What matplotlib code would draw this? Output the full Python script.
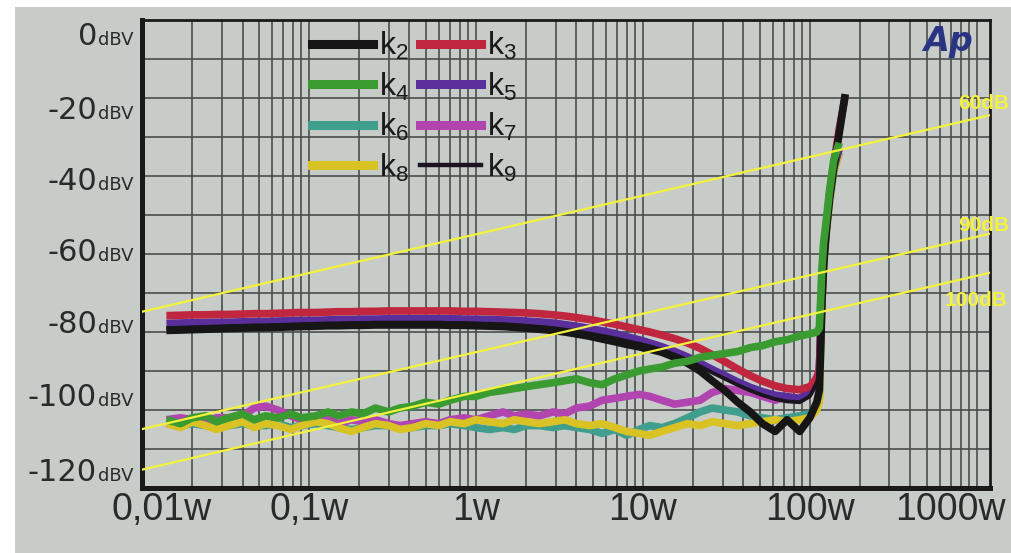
import numpy as np
import matplotlib
matplotlib.use("Agg")
import matplotlib.pyplot as plt
from matplotlib.ticker import LogLocator, NullFormatter
from matplotlib.font_manager import FontProperties
from matplotlib.textpath import TextPath
from matplotlib.patches import Rectangle
import matplotlib.transforms as mtransforms

# ---------------- data ----------------
POWER_W = [0.014, 0.017, 0.02, 0.024, 0.028, 0.033, 0.04, 0.047, 0.055, 0.065,
           0.078, 0.09, 0.11, 0.13, 0.15, 0.18, 0.21, 0.25, 0.3, 0.35,
           0.42, 0.5, 0.6, 0.7, 0.85, 1.0, 1.2, 1.45, 1.7, 2.0,
           2.4, 2.9, 3.4, 4.0, 4.8, 5.7, 6.8, 8.0, 9.5, 11,
           13, 15.5, 18.5, 22, 26, 31, 37, 44, 52, 62,
           73, 87, 100, 110]
SPIKE_W = [114, 116, 118, 121, 125, 131, 139, 150, 163]

K2 = [-79.6, -79.5, -79.4, -79.3, -79.2, -79.1, -79.0, -78.9, -78.9, -78.8,
      -78.7, -78.6, -78.5, -78.4, -78.4, -78.3, -78.3, -78.2, -78.2, -78.2,
      -78.2, -78.2, -78.2, -78.3, -78.3, -78.4, -78.5, -78.6, -78.8, -79.0,
      -79.3, -79.6, -80.0, -80.5, -81.1, -81.8, -82.5, -83.2, -83.8, -84.4,
      -85.2, -86.5, -88.0, -90.0, -92.5, -95.0, -98.0, -100.5, -103.5, -105.5,
      -102.5, -105.5, -102.0, -98.0]
K3 = [-75.8, -75.7, -75.6, -75.6, -75.5, -75.5, -75.4, -75.3, -75.3, -75.2,
      -75.1, -75.0, -75.0, -74.9, -74.8, -74.8, -74.7, -74.7, -74.6, -74.6,
      -74.6, -74.6, -74.6, -74.6, -74.7, -74.7, -74.8, -74.9, -75.0, -75.1,
      -75.3, -75.6, -75.9, -76.3, -76.8, -77.4, -78.0, -78.7, -79.4, -80.0,
      -80.8, -81.7, -82.8, -84.2, -85.8, -87.6, -89.5, -91.2, -92.6, -93.8,
      -94.5, -94.8, -94.0, -92.0]
K4 = [-102.5, -103.5, -102.0, -101.5, -103.0, -102.0, -101.0, -102.5, -101.5, -102.0,
      -101.0, -102.0, -101.5, -100.5, -101.5, -100.5, -101.0, -99.5, -100.5, -99.5,
      -99.0, -98.0, -98.5, -97.5, -96.5, -96.5, -95.5, -95.0, -94.5, -94.0,
      -93.5, -93.0, -92.5, -92.0, -93.0, -93.5, -92.0, -91.0, -90.0, -89.5,
      -89.0, -88.0, -87.5, -86.5, -86.0, -85.5, -85.0, -84.0, -83.5, -82.5,
      -82.0, -81.0, -80.5, -80.0]
K5 = [-77.8, -77.7, -77.6, -77.6, -77.5, -77.5, -77.4, -77.3, -77.3, -77.2,
      -77.1, -77.0, -77.0, -76.9, -76.8, -76.8, -76.7, -76.7, -76.6, -76.6,
      -76.6, -76.6, -76.6, -76.6, -76.7, -76.7, -76.8, -76.9, -77.0, -77.2,
      -77.4, -77.7, -78.1, -78.5, -79.1, -79.7, -80.4, -81.2, -82.0, -82.8,
      -83.8, -85.0, -86.4, -88.0, -89.6, -91.2, -92.8, -94.2, -95.3, -96.2,
      -96.6, -97.0, -95.5, -92.5]
K6 = [-103.5, -104.0, -103.5, -104.0, -104.5, -104.0, -103.5, -104.0, -104.0, -103.5,
      -104.5, -104.0, -103.5, -104.0, -104.5, -105.0, -104.5, -104.0, -104.0, -104.5,
      -104.5, -104.0, -104.0, -103.5, -104.0, -104.5, -105.0, -104.5, -105.0, -104.0,
      -104.0, -104.5, -104.0, -104.5, -105.0, -106.0, -105.0, -106.5, -105.0, -104.0,
      -104.5, -103.5, -102.0, -100.5, -99.5, -100.0, -100.5, -101.5, -102.0, -102.5,
      -102.0, -101.5, -101.0, -99.0]
K7 = [-102.5, -102.0, -102.5, -103.0, -102.0, -102.0, -101.5, -99.5, -99.0, -100.0,
      -101.5, -102.5, -103.0, -102.5, -103.5, -102.5, -103.0, -102.5, -103.5, -104.0,
      -103.5, -103.0, -103.5, -102.5, -102.0, -102.5, -101.5, -100.5, -101.5, -101.0,
      -101.5, -100.5, -101.0, -99.5, -99.0, -97.5, -97.0, -96.5, -96.0, -96.5,
      -97.5, -98.5, -98.0, -97.5, -95.5, -94.5, -95.0, -95.5, -96.5, -97.5,
      -96.5, -97.5, -95.0, -91.5]
K8 = [-103.5, -104.5, -103.0, -104.0, -105.0, -104.0, -103.0, -104.5, -103.5, -104.0,
      -105.0, -104.0, -103.0, -103.5, -104.5, -105.5, -104.5, -103.5, -104.0, -105.0,
      -104.5, -103.5, -104.0, -103.0, -103.5, -102.5, -103.0, -103.5, -102.5, -103.0,
      -103.5, -103.0, -102.5, -103.5, -104.0, -103.5, -104.5, -105.5, -106.0, -106.5,
      -105.5, -104.5, -103.5, -104.0, -103.0, -103.5, -104.0, -103.5, -103.0, -102.5,
      -103.0, -102.5, -102.0, -100.0]
K9 = [-79.0, -78.9, -78.8, -78.7, -78.6, -78.5, -78.4, -78.3, -78.3, -78.2,
      -78.1, -78.0, -77.9, -77.8, -77.8, -77.7, -77.7, -77.6, -77.6, -77.6,
      -77.6, -77.6, -77.6, -77.7, -77.7, -77.8, -77.9, -78.0, -78.2, -78.4,
      -78.7, -79.0, -79.4, -79.8, -80.4, -81.0, -81.6, -82.3, -83.0, -83.7,
      -84.6, -85.8, -87.2, -88.8, -90.4, -92.0, -93.6, -95.0, -96.2, -97.2,
      -97.8, -98.0, -96.5, -93.0]

K2_SPIKE = [-95, -85, -73, -63, -55, -46, -38, -29, -19]
K3_SPIKE = [-90, -82, -72, -62, -54, -45, -37, -28, -19.5]
K4_SPIKE = [-79, -72, -64, -57, -52, -44, -36, -31.5, np.nan]
K5_SPIKE = [-90, -80, -70, -61, -54, -46, -38, -33, np.nan]
K6_SPIKE = [-97, -85, -72, -62, -55, -47, -39, -34, np.nan]
K7_SPIKE = [-90, -80, -70, -61, -54, -46, -38, -33, np.nan]
K8_SPIKE = [-98, -86, -73, -63, -55, -47, -39, -34, np.nan]
K9_SPIKE = [-91, -82, -72, -62, -54, -45, -37, -29, -20]

# reference lines (signal minus 60 / 90 / 100 dB)
REF_W = [0.01, 1200]
REF_60 = [-74.8, -24.4]
REF_90 = [-104.9, -54.8]
REF_100 = [-115.3, -64.8]
REF_LABELS = ["60dB", "90dB", "100dB"]
REF_LABEL_W = [770, 770, 640]
REF_LABEL_DB = [-21.5, -52.8, -72.0]

XTICKS = [0.01, 0.1, 1, 10, 100, 1000]
XTICK_LABELS = ["0,01w", "0,1w", "1w", "10w", "100w", "1000w"]
YTICKS = [0, -20, -40, -60, -80, -100, -120]
YGRID = [0, -10, -20, -30, -40, -50, -60, -70, -80, -90, -100, -110, -120]
# the printed scale labels drift from their grid lines in the photo (pixels, downward)
YLABEL_SHIFT_PX = [14, 9.5, 3, -4, -10, -15, -18]

# ---------------- styling ----------------
BG = "#c7ccc9"
GRID = "#4a4d4c"
TXT = "#2a2a2a"
NARROW = ["Liberation Sans Narrow", "Liberation Sans", "DejaVu Sans"]

fig = plt.figure(figsize=(10.12, 5.53), dpi=100, facecolor=BG)
ax = fig.add_axes([142 / 1012, 1 - 488 / 553, (990 - 142) / 1012, (488 - 20) / 553])
ax.set_facecolor(BG)

# white photo border
fig.patches.append(Rectangle((0, 1 - 7 / 553), 1, 7 / 553, transform=fig.transFigure,
                             facecolor="white", edgecolor="none", zorder=10))
fig.patches.append(Rectangle((0, 0), 15 / 1012, 1, transform=fig.transFigure,
                             facecolor="white", edgecolor="none", zorder=10))

ax.set_xscale("log")
ax.set_xlim(0.01, 1200)
ax.set_ylim(-120, 0)

ax.set_xticks(XTICKS)
ax.set_xticklabels(XTICK_LABELS)
ax.xaxis.set_minor_locator(LogLocator(base=10, subs=range(2, 10)))
ax.xaxis.set_minor_formatter(NullFormatter())
ax.set_yticks(YGRID)
ax.set_yticklabels([])
ax.tick_params(which="both", length=0)
ax.tick_params(axis="x", pad=3)
for lab in ax.get_xticklabels():
    lab.set_fontfamily(["Liberation Sans", "DejaVu Sans"])
    lab.set_fontsize(27)
    lab.set_color(TXT)
xl = ax.get_xticklabels()
xl[0].set_transform(xl[0].get_transform() + mtransforms.ScaledTranslation(20 / 100, 0, fig.dpi_scale_trans))
xl[-1].set_transform(xl[-1].get_transform() + mtransforms.ScaledTranslation(-26 / 100, 0, fig.dpi_scale_trans))

ax.grid(True, which="both", axis="x", color=GRID, lw=1.2)
ax.grid(True, which="major", axis="y", color=GRID, lw=1.2)
ax.set_axisbelow(True)

for side, lw in (("left", 3.6), ("bottom", 3.6), ("top", 2.0), ("right", 2.0)):
    ax.spines[side].set_linewidth(lw)
    ax.spines[side].set_color("#1a1a1a")

# y labels: big number + small "dBV"
fp_big = FontProperties(family="DejaVu Sans", size=22)
fp_small = FontProperties(family="DejaVu Sans", size=13)
w_small = TextPath((0, 0), "dBV", prop=fp_small).get_extents().width
for v, sh in zip(YTICKS, YLABEL_SHIFT_PX):
    dy = -8 - sh * 0.72
    ax.annotate("dBV", xy=(0, v), xycoords=("axes fraction", "data"),
                xytext=(-6, dy), textcoords="offset points", ha="right", va="baseline",
                fontproperties=fp_small, color=TXT, annotation_clip=False)
    ax.annotate(str(v), xy=(0, v), xycoords=("axes fraction", "data"),
                xytext=(-6 - w_small - 1.5, dy), textcoords="offset points",
                ha="right", va="baseline", fontproperties=fp_big, color=TXT,
                annotation_clip=False)

# ---------------- curves ----------------
X = POWER_W + SPIKE_W
series = [
    ("k$_{\\mathregular{6}}$", K6 + K6_SPIKE, "#3f9e8e", 5.5, 2),
    ("k$_{\\mathregular{7}}$", K7 + K7_SPIKE, "#b244b0", 5.5, 3),
    ("k$_{\\mathregular{8}}$", K8 + K8_SPIKE, "#d9c224", 5.5, 4),
    ("k$_{\\mathregular{5}}$", K5 + K5_SPIKE, "#5a2f9c", 5.5, 5),
    ("k$_{\\mathregular{3}}$", K3 + K3_SPIKE, "#c0263e", 5.5, 6),
    ("k$_{\\mathregular{9}}$", K9 + K9_SPIKE, "#1c1420", 2.8, 7),
    ("k$_{\\mathregular{2}}$", K2 + K2_SPIKE, "#161616", 5.5, 8),
    ("k$_{\\mathregular{4}}$", K4 + K4_SPIKE, "#3a9b31", 5.5, 9),
]
handles = {}
for label, ys, col, lw, z in series:
    (ln,) = ax.plot(X, ys, color=col, lw=lw, zorder=z, solid_capstyle="butt",
                    solid_joinstyle="round")
    handles[label] = ln

# yellow reference lines
for ys in (REF_60, REF_90, REF_100):
    ax.plot(REF_W, ys, color="#f4f23c", lw=1.6, zorder=12)
for lab, xw, yd in zip(REF_LABELS, REF_LABEL_W, REF_LABEL_DB):
    ax.text(xw, yd, lab, color="#f4f23c", fontsize=15, fontweight="bold",
            family=NARROW, ha="left", va="center", clip_on=False, zorder=13)

# Ap logo
ax.text(0.921, 0.955, "Ap", transform=ax.transAxes, fontsize=24, fontweight="bold",
        fontstyle="italic", color="#2a3482", ha="left", va="center", zorder=13)

# legend (column 1: k2 k4 k6 k8, column 2: k3 k5 k7 k9)
order = ["k$_{\\mathregular{%d}}$" % i for i in (2, 4, 6, 8, 3, 5, 7, 9)]
leg_handles = []
for key in order:
    h = handles[key]
    leg_handles.append(plt.Line2D([], [], color=h.get_color(),
                                  lw=6.5 if h.get_linewidth() > 3 else 3.2))
leg = ax.legend(leg_handles, order, ncol=2, loc="upper left",
                bbox_to_anchor=((312 - 142) / 848, 1 - (30 - 20) / 468),
                frameon=False, prop=FontProperties(family=NARROW, size=23),
                handlelength=1.9, handletextpad=0.2, columnspacing=0.35,
                labelspacing=0.25, borderaxespad=0, borderpad=0)
for t in leg.get_texts():
    t.set_color("#1a1a1a")
leg.set_zorder(11)

fig.savefig("out.png", dpi=100, facecolor=BG)
